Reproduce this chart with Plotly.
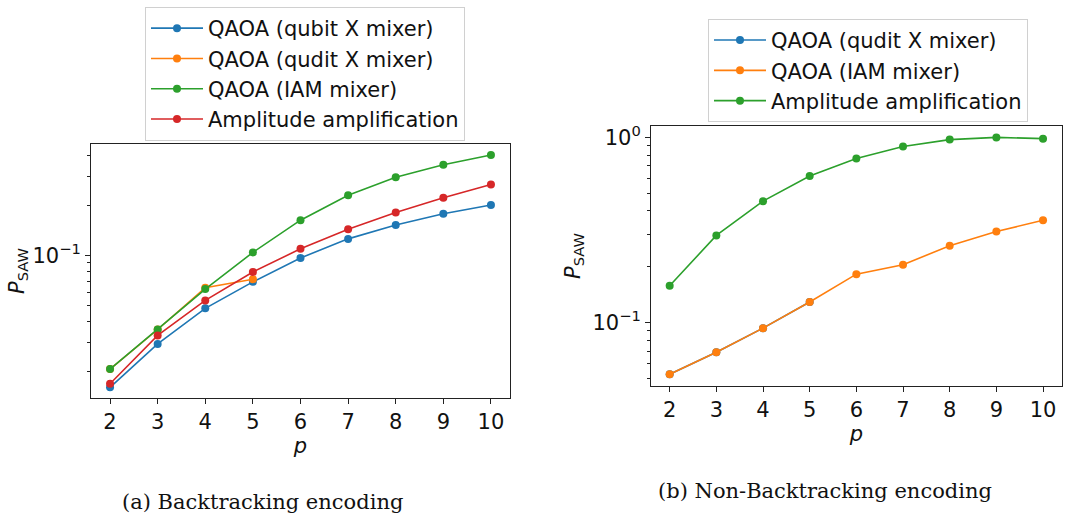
import plotly.graph_objects as go
from plotly.subplots import make_subplots

# Circuit depth p
p = [2, 3, 4, 5, 6, 7, 8, 9, 10]
p_short = [2, 3, 4, 5]

# (a) Backtracking encoding: success probability P_SAW
bt_qubit_x = [0.0160, 0.0292, 0.0479, 0.0692, 0.0964, 0.1257, 0.1524, 0.178, 0.201]
bt_qudit_x = [0.0206, 0.0357, 0.0637, 0.0718]
bt_iam = [0.0206, 0.0357, 0.0626, 0.1042, 0.163, 0.2306, 0.2955, 0.352, 0.4027]
bt_amp = [0.0168, 0.0329, 0.0535, 0.0794, 0.1095, 0.1437, 0.1816, 0.2223, 0.2673]

# (b) Non-Backtracking encoding
nbt_qudit_x = [0.0525, 0.0691, 0.0932, 0.129]
nbt_iam = [0.0525, 0.0691, 0.0932, 0.129, 0.1824, 0.2052, 0.2594, 0.310, 0.356]
nbt_amp = [0.158, 0.295, 0.452, 0.618, 0.768, 0.891, 0.971, 0.998, 0.983]

BLUE, ORANGE, GREEN, RED = "#1f77b4", "#ff7f0e", "#2ca02c", "#d62728"
W, H = 1081, 520
FONT = "DejaVu Sans"
FS = 21

fig = make_subplots(rows=1, cols=2)


def series(x, y, name, color, col, legend):
    fig.add_trace(
        go.Scatter(
            x=x, y=y, name=name, mode="lines+markers",
            line=dict(color=color, width=1.6),
            marker=dict(color=color, size=8),
            legend=legend,
        ),
        row=1, col=col,
    )


series(p, bt_qubit_x, "QAOA (qubit X mixer)", BLUE, 1, "legend")
series(p_short, bt_qudit_x, "QAOA (qudit X mixer)", ORANGE, 1, "legend")
series(p, bt_iam, "QAOA (IAM mixer)", GREEN, 1, "legend")
series(p, bt_amp, "Amplitude amplification", RED, 1, "legend")

series(p_short, nbt_qudit_x, "QAOA (qudit X mixer)", BLUE, 2, "legend2")
series(p, nbt_iam, "QAOA (IAM mixer)", ORANGE, 2, "legend2")
series(p, nbt_amp, "Amplitude amplification", GREEN, 2, "legend2")

axis_common = dict(
    showline=True, linecolor="#222", linewidth=1, mirror=True,
    ticks="outside", ticklen=5, tickwidth=1, tickcolor="#222",
    showgrid=False, zeroline=False,
    tickfont=dict(family=FONT, size=FS, color="#111"),
)

xkw = dict(axis_common, range=[1.6, 10.4], tickmode="array", tickvals=p,
           title=dict(text="<i>p</i>", font=dict(family=FONT, size=FS, color="#111"), standoff=0))
fig.update_xaxes(xkw, row=1, col=1, domain=[91 / W, 510 / W])
fig.update_xaxes(xkw, row=1, col=2, domain=[651 / W, 1061.7 / W])

minor_left = [0.02, 0.03, 0.04, 0.05, 0.06, 0.07, 0.08, 0.09, 0.2, 0.3, 0.4]
minor_right = [0.05, 0.06, 0.07, 0.08, 0.09, 0.2, 0.3, 0.4, 0.5, 0.6, 0.7, 0.8, 0.9]
ytitle = dict(text="<i>P</i><sub>SAW</sub>", font=dict(family=FONT, size=FS, color="#111"))

fig.update_yaxes(
    axis_common, type="log", range=[-1.862, -0.326],
    tickmode="array", tickvals=[0.1], ticktext=["10<sup>−1</sup>"],
    minor=dict(tickvals=minor_left, ticks="outside", ticklen=3, tickwidth=1, tickcolor="#222"),
    title=dict(ytitle, standoff=2),
    domain=[1 - 397.3 / H, 1 - 140.7 / H], row=1, col=1,
)
fig.update_yaxes(
    axis_common, type="log", range=[-1.343, 0.062],
    tickmode="array", tickvals=[0.1, 1], ticktext=["10<sup>−1</sup>", "10<sup>0</sup>"],
    minor=dict(tickvals=minor_right, ticks="outside", ticklen=3, tickwidth=1, tickcolor="#222"),
    title=dict(ytitle, standoff=6),
    domain=[1 - 385 / H, 1 - 122.7 / H], row=1, col=2,
)

legend_style = dict(
    bgcolor="white", bordercolor="#d0d0d0", borderwidth=1,
    font=dict(family=FONT, size=FS, color="#111"),
    xanchor="left", yanchor="top", itemwidth=52, tracegroupgap=0,
)

fig.update_layout(
    width=W, height=H,
    margin=dict(l=0, r=0, t=0, b=0),
    paper_bgcolor="white", plot_bgcolor="white",
    showlegend=True,
    legend=dict(legend_style, x=145 / W, y=1 - 3 / H),
    legend2=dict(legend_style, x=708 / W, y=1 - 15 / H),
    annotations=[
        dict(text="(a) Backtracking encoding", x=262 / W, y=1 - 502 / H,
             xref="paper", yref="paper", showarrow=False,
             xanchor="center", yanchor="middle",
             font=dict(family="DejaVu Serif", size=21, color="#111")),
        dict(text="(b) Non-Backtracking encoding", x=825 / W, y=1 - 491 / H,
             xref="paper", yref="paper", showarrow=False,
             xanchor="center", yanchor="middle",
             font=dict(family="DejaVu Serif", size=21, color="#111")),
    ],
)

fig.write_html("out.html")
